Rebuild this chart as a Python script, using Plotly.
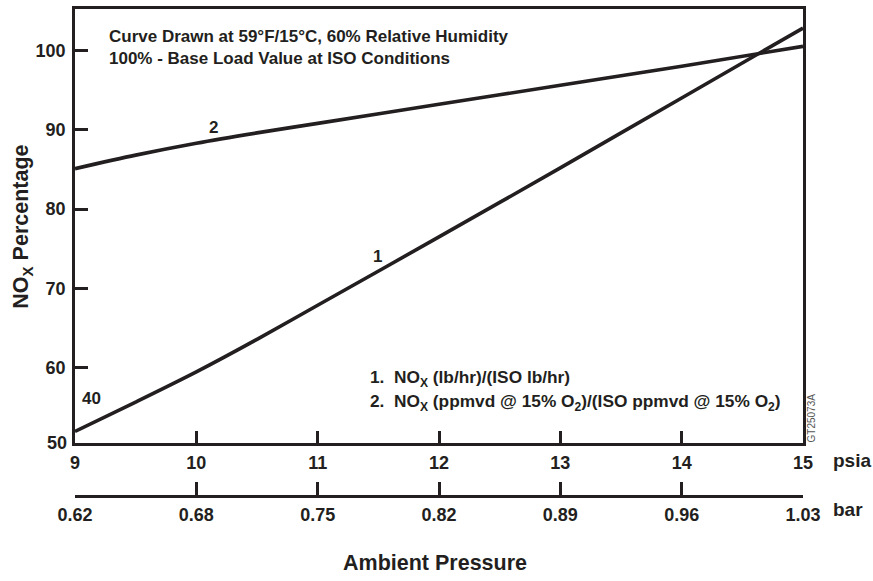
import plotly.graph_objects as go

# Data
psia = [9, 9.5, 10, 10.5, 11, 12, 13, 14, 15]
curve1 = [52.0, 55.7, 59.5, 63.6, 67.9, 76.5, 85.2, 94.0, 102.8]
curve2 = [85.1, 86.8, 88.3, 89.6, 90.8, 93.2, 95.6, 98.0, 100.5]

psia_ticks = [9, 10, 11, 12, 13, 14, 15]
bar_labels = ["0.62", "0.68", "0.75", "0.82", "0.89", "0.96", "1.03"]
y_ticks = [60, 70, 80, 90, 100]

INK = "#231f20"
FONT = "Liberation Sans, Arial, Helvetica, sans-serif"

fig = go.Figure()
fig.add_trace(go.Scatter(x=psia, y=curve1, mode="lines", line=dict(color=INK, width=3.6, shape="spline", smoothing=0.8),
                         hoverinfo="skip", showlegend=False))
fig.add_trace(go.Scatter(x=psia, y=curve2, mode="lines", line=dict(color=INK, width=3.6, shape="spline", smoothing=0.8),
                         hoverinfo="skip", showlegend=False))
# invisible trace to carry the bar axis
fig.add_trace(go.Scatter(x=[9, 15], y=[60, 60], xaxis="x2", yaxis="y", mode="lines",
                         line=dict(width=0), opacity=0, hoverinfo="skip", showlegend=False))

axis_common = dict(showline=True, linecolor=INK, linewidth=2.8, ticks="inside", ticklen=13,
                   tickwidth=2.6, tickcolor=INK, showgrid=False, zeroline=False,
                   tickfont=dict(family=FONT, size=18, color=INK, weight="bold"))

fig.update_layout(
    width=873, height=581,
    margin=dict(l=75, r=70, t=6, b=85),
    paper_bgcolor="white", plot_bgcolor="white",
    xaxis=dict(range=[9, 15], domain=[0, 1], anchor="y", tickvals=psia_ticks,
               ticktext=[str(v) for v in psia_ticks], mirror=True, ticklabelstandoff=1,
               **axis_common),
    xaxis2=dict(range=[9, 15], overlaying="x", anchor="free", position=0, side="bottom",
                tickvals=psia_ticks, ticktext=bar_labels, ticklabelstandoff=1, **axis_common),
    yaxis=dict(range=[50.5, 105.2], domain=[0.108, 1], anchor="x", tickvals=y_ticks,
               mirror=True, ticklabelstandoff=3, **axis_common),
)

ann_font = dict(family=FONT, size=17, color=INK, weight="bold")
annotations = [
    dict(text="Curve Drawn at 59°F/15°C, 60% Relative Humidity", x=107, y=34, size=17),
    dict(text="100% - Base Load Value at ISO Conditions", x=107, y=56, size=17),
    dict(text="1.  NO<sub>X</sub> (lb/hr)/(ISO lb/hr)", x=368, y=378, size=17.3),
    dict(text="2.  NO<sub>X</sub> (ppmvd @ 15% O<sub>2</sub>)/(ISO ppmvd @ 15% O<sub>2</sub>)", x=368, y=402, size=17.3),
]
for a in annotations:
    fig.add_annotation(text=a["text"], xref="paper", yref="paper",
                       x=(a["x"] - 75) / 728, y=(496 - a["y"]) / 490,
                       xanchor="left", yanchor="middle", showarrow=False, font=dict(ann_font, size=a["size"]))

# curve labels in data coordinates
for txt, xv, yv in [("1", 11.49, 74.0), ("2", 10.14, 90.3), ("40", 9.14, 56.1)]:
    fig.add_annotation(text=txt, x=xv, y=yv, xref="x", yref="y", showarrow=False,
                       xanchor="center", yanchor="middle", font=ann_font)

big = dict(family=FONT, size=18, color=INK, weight="bold")
title_font = dict(family=FONT, size=21.5, color=INK, weight="bold")
fig.add_annotation(text="50", xref="paper", yref="paper", x=-6 / 728, y=(496 - 443) / 490,
                   xanchor="right", yanchor="middle", showarrow=False, font=big)
fig.add_annotation(text="psia", xref="paper", yref="paper", x=(831 - 75) / 728, y=(496 - 460) / 490,
                   xanchor="left", yanchor="middle", showarrow=False, font=dict(big, size=19))
fig.add_annotation(text="bar", xref="paper", yref="paper", x=(831 - 75) / 728, y=(496 - 510) / 490,
                   xanchor="left", yanchor="middle", showarrow=False, font=dict(big, size=19))
fig.add_annotation(text="Ambient Pressure", xref="paper", yref="paper", x=(435 - 75) / 728,
                   y=(496 - 563) / 490, xanchor="center", yanchor="middle", showarrow=False, font=title_font)
fig.add_annotation(text="NO<sub>X</sub> Percentage", xref="paper", yref="paper", x=(23 - 75) / 728,
                   y=(496 - 225) / 490, xanchor="center", yanchor="middle", textangle=-90,
                   showarrow=False, font=title_font)
fig.add_annotation(text="GT25073A", xref="paper", yref="paper", x=(811 - 75) / 728,
                   y=(496 - 418) / 490, xanchor="center", yanchor="middle", textangle=-90,
                   showarrow=False, font=dict(family=FONT, size=10, color="#555555"))

fig.write_html("out.html", config={"displayModeBar": False},
               post_script="document.body.style.margin='0px';")
